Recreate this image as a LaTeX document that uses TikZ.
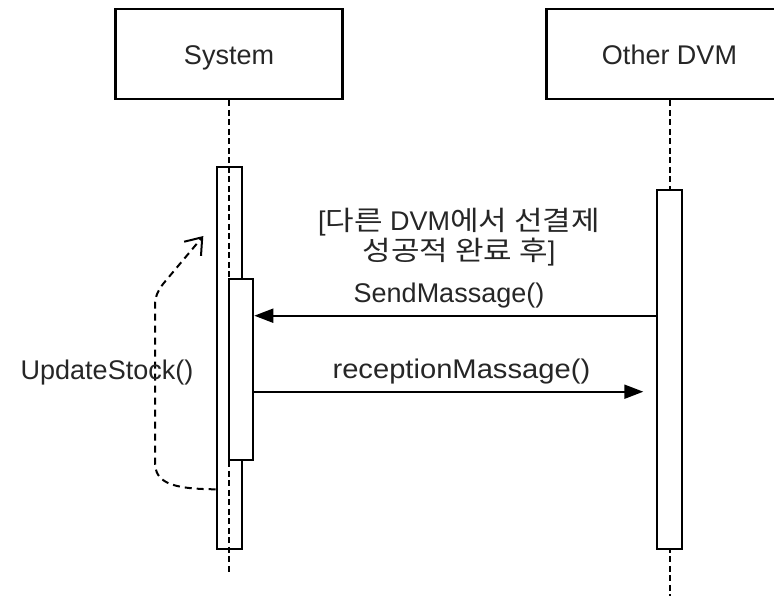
\documentclass[tikz,border=0pt]{standalone}
\usepackage{fontspec}
\setmainfont{Liberation Sans}
\newfontfamily\krfont[FakeStretch=1.15]{Noto Sans CJK KR}
\newcommand{\K}[1]{{\krfont #1}}
\usetikzlibrary{arrows.meta}
\begin{document}
\begin{tikzpicture}[x=1pt,y=-1pt,
  every node/.style={font=\fontsize{27}{30}\selectfont, text=black!85},
  head/.style={draw=black, line width=2.2pt, minimum width=227pt, minimum height=90pt, inner sep=0pt, text height=20.4pt, text depth=0pt},
  life/.style={line width=2pt, dash pattern=on 6pt off 3.5pt},
  actbar/.style={draw=black, line width=2pt, minimum width=25pt, inner sep=0pt},
  msg/.style={line width=2pt, -{Triangle[length=19pt,width=14pt]}},
  selfmsg/.style={line width=2pt, dash pattern=on 7pt off 5pt, -{Straight Barb[length=15pt,width=22pt]}},
  lbl/.style={inner sep=1pt, align=center},
]
\useasboundingbox (0,0) rectangle (774,595);
\clip (0,0) rectangle (774,595);
% lifeline heads
\node[head] (sys) at (229,54.3) {System};
\node[head, minimum width=246pt] (dvm) at (669.5,54.3) {Other DVM};
% lifeline ends
\coordinate (sysend) at (229,575);
\coordinate (dvmend) at (669.5,598);
\draw[life] (sys.south) -- (sysend);
\draw[life] (dvm.south) -- (dvmend);
% activation bars
\node[actbar, minimum height=382.3pt] (sysbar) at (229.2,357.8) {};
\node[actbar, fill=white, minimum height=180.7pt, minimum width=24.6pt] (sysinner) at (241,369.7) {};
\node[actbar, fill=white, minimum height=359.3pt] (dvmbar) at (669.2,369.7) {};
% messages
\coordinate (rmend) at (643.3,391.7);
\draw[msg] (dvmbar.west |- 0,315.7) -- (sysinner.east |- 0,315.7);
\draw[msg] (sysinner.east |- 0,391.7) -- (rmend);
\node[lbl] (smlbl) at (449,296) {SendMassage()};
\node[lbl] (rmlbl) at (461.4,372) {\addfontfeature{FakeStretch=1.08}receptionMassage()};
\node[lbl] (cond) at (459,237) {[\K{다른} DVM\K{에서 선결제}\\\K{성공적 완료 후}]};
% self message
\coordinate (updtip) at (203.3,236);
\draw[selfmsg] (sysbar.west |- 0,489.3) .. controls (170,489) and (155,482) .. (155,462) -- (155,305) .. controls (155,296) and (158,291) .. (163,284) -- (updtip);
\node[lbl] (updlbl) at (107,373) {UpdateStock()};
\end{tikzpicture}
\end{document}
